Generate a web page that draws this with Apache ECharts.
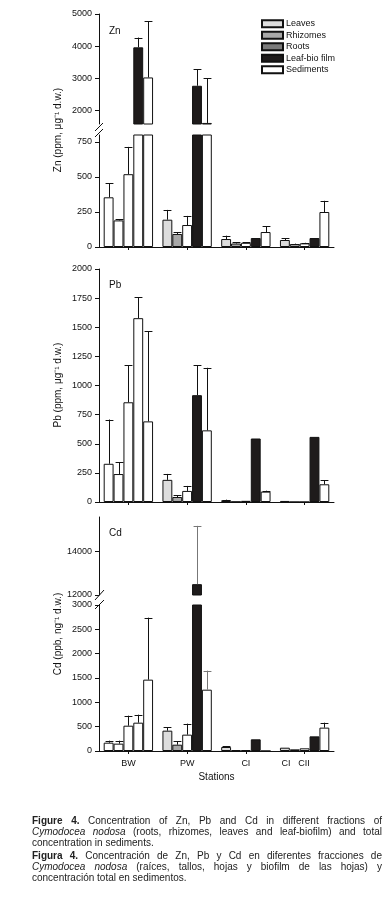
<!DOCTYPE html>
<html>
<head>
<meta charset="utf-8">
<script src="https://cdn.jsdelivr.net/npm/echarts@6/dist/echarts.min.js"></script>
<style>
  body { margin: 0; background: #fff; }
  #chart { width: 389px; height: 899px; }
  #caption { position: absolute; left: 32px; top: 815px; width: 350px; font: 10px 'Liberation Sans', Arial, sans-serif; line-height: 11px; color: #222; }
  .j { text-align: justify; text-align-last: justify; }
</style>
</head>
<body>
<div id="chart"></div>
<div id="caption">
  <div class="j"><b>Figure 4.</b> Concentration of Zn, Pb and Cd in different fractions of</div>
  <div class="j"><i>Cymodocea nodosa</i> (roots, rhizomes, leaves and leaf-biofilm) and total</div>
  <div>concentration in sediments.</div>
  <div class="j" style="margin-top:2px"><b>Figura 4.</b> Concentración de Zn, Pb y Cd en diferentes fracciones de</div>
  <div class="j"><i>Cymodocea nodosa</i> (raíces, tallos, hojas y biofilm de las hojas) y</div>
  <div>concentración total en sedimentos.</div>
</div>
<script>
const stations = ['BW', 'PW', 'CI', 'CII'];
const fractions = ['Leaves', 'Rhizomes', 'Roots', 'Leaf-bio film', 'Sediments'];

// rows follow fractions order, one value per station
const znMean = [[355, 195, 57, 50], [190, 93, 25, 21], [520, 157, 30, 26], [3960, 2760, 64, 64], [3020, 1600, 107, 250]];
const znErr = [[100, 70, 24, 14], [10, 12, 8, 3], [195, 65, 5, 4], [305, 510, 0, 0], [1750, 1400, 43, 80]];

const pbMean = [[328, 190, 15, 9], [240, 43, 2, 0], [856, 95, 10, 0], [1578, 917, 545, 559], [692, 615, 89, 152]];
const pbErr = [[380, 51, 5, 0], [100, 17, 0, 0], [319, 43, 0, 0], [181, 258, 0, 0], [774, 537, 8, 34]];

const cdMean = [[171, 418, 82, 68], [151, 130, 20, 34], [520, 336, 20, 55], [582, 12500, 240, 301], [1466, 1260, 0, 480]];
const cdErr = [[41, 75, 21, 0], [61, 69, 0, 0], [206, 226, 0, 0], [165, 2690, 0, 0], [1274, 391, 0, 102]];

const znTicksUp = [2000, 3000, 4000, 5000];
const znTicksLow = [0, 250, 500, 750];
const pbTicks = [0, 250, 500, 750, 1000, 1250, 1500, 1750, 2000];
const cdTicksUp = [12000, 14000];
const cdTicksLow = [0, 500, 1000, 1500, 2000, 2500, 3000];

const fills = ['#dddddd', '#a8a8a8', '#7c7c7c', '#1e1b1b', '#ffffff'];
const ink = '#111';
const font = "'Liberation Sans', Arial, sans-serif";
const catGap = 0.16;

const panels = [
  { mean: znMean, err: znErr, top: 14, height: 110, min: 1567, max: 5000, ticks: znTicksUp, upper: true },
  { mean: znMean, err: znErr, top: 135, height: 112, min: 0, max: 800, ticks: znTicksLow },
  { mean: pbMean, err: pbErr, top: 269, height: 233, min: 0, max: 2000, ticks: pbTicks },
  { mean: cdMean, err: cdErr, top: 517, height: 78, min: 12000, max: 15600, ticks: cdTicksUp, upper: true },
  { mean: cdMean, err: cdErr, top: 605, height: 146, min: 0, max: 3000, ticks: cdTicksLow, labels: true }
];

// the scanned figure draws roots and most BW bars unfilled
function barColor(f, k, upper) {
  if (f === 2) return '#fff';
  if (k === 0 && !upper) return '#fff';
  return fills[f];
}

function errorRenderer(f) {
  return function (params, api) {
    const err = api.value(2);
    if (!err) return;
    const cat = api.value(0), mean = api.value(1);
    const cs = params.coordSys;
    const barW = api.size([1, 0])[0] * (1 - catGap) / 5;
    const x = Math.round(api.coord([cat, 0])[0] + (f - 2) * barW) + 0.5;
    const y0 = api.coord([cat, mean])[1];
    const y1 = api.coord([cat, mean + err])[1];
    const top = cs.y, bottom = cs.y + cs.height;
    if (y1 > bottom || y0 < top) return;
    // long Cd bars at PW have grey whiskers in the scan
    const stroke = (f >= 3 && cat === 1 && mean > 1000 && cs.height < 160 && cs.y > 500) ? '#777' : ink;
    const style = { stroke: stroke, lineWidth: 1 };
    const children = [{
      type: 'line',
      shape: { x1: x, y1: Math.min(y0, bottom), x2: x, y2: Math.max(y1, top) },
      style: style
    }];
    if (y1 >= top) {
      const yc = Math.round(y1) + 0.5;
      children.push({
        type: 'line',
        shape: { x1: x - barW / 2 + 1, y1: yc, x2: x + barW / 2 - 1, y2: yc },
        style: style
      });
    }
    return { type: 'group', children: children };
  };
}

const grid = [], xAxis = [], yAxis = [], series = [];
panels.forEach((p, i) => {
  grid.push({ left: 99, right: 55, top: p.top, height: p.height });
  xAxis.push({
    type: 'category', gridIndex: i, data: stations,
    axisLine: { show: !p.upper, lineStyle: { color: ink, width: 1 } },
    axisTick: { show: !p.upper, alignWithLabel: true, length: 3, lineStyle: { color: ink } },
    axisLabel: {
      show: !!p.labels, margin: 8, color: ink, fontFamily: font, fontSize: 9,
      formatter: (v, idx) => idx === 3 ? '{s|CI   ' + v + '}' : v,
      rich: { s: { fontFamily: font, fontSize: 9, color: ink, padding: [0, 18, 0, 0] } }
    },
    name: p.labels ? 'Stations' : '', nameLocation: 'middle', nameGap: 21,
    nameTextStyle: { color: ink, fontFamily: font, fontSize: 10 }
  });
  yAxis.push({
    type: 'value', gridIndex: i, min: p.min, max: p.max,
    axisLine: { show: true, lineStyle: { color: ink, width: 1 } },
    axisTick: { show: true, length: 4, customValues: p.ticks, lineStyle: { color: ink } },
    axisLabel: {
      customValues: p.ticks, margin: 7, color: ink, fontFamily: font, fontSize: 9,
      formatter: v => String(v)
    },
    splitLine: { show: false }
  });
  fractions.forEach((name, f) => {
    series.push({
      type: 'bar', name: name, xAxisIndex: i, yAxisIndex: i,
      barGap: 0, barCategoryGap: catGap * 100 + '%',
      itemStyle: { color: fills[f], borderColor: ink, borderWidth: 1 },
      data: p.mean[f].map((v, k) => ({ value: v, itemStyle: { color: barColor(f, k, p.upper) } })),
      silent: true
    });
    series.push({
      type: 'custom', xAxisIndex: i, yAxisIndex: i,
      renderItem: errorRenderer(f),
      encode: { x: 0, y: 1 },
      data: p.mean[f].map((v, k) => [k, v, p.err[f][k]]),
      silent: true, z: 3
    });
  });
});

function vText(text, x, y) {
  return {
    type: 'text', x: x, y: y, rotation: Math.PI / 2,
    style: { text: text, fill: ink, font: '10px ' + font, textAlign: 'center', textVerticalAlign: 'middle' }
  };
}
function label(text, x, y) {
  return { type: 'text', x: x, y: y, style: { text: text, fill: ink, font: '10px ' + font, textVerticalAlign: 'middle' } };
}
function slash(x1, y1, x2, y2) {
  return { type: 'line', shape: { x1: x1, y1: y1, x2: x2, y2: y2 }, style: { stroke: ink, lineWidth: 1 } };
}

const chart = echarts.init(document.getElementById('chart'), null, { renderer: 'canvas' });
chart.setOption({
  animation: false,
  backgroundColor: '#fff',
  grid: grid, xAxis: xAxis, yAxis: yAxis, series: series,
  legend: {
    orient: 'vertical', left: 261, top: 18, padding: 0,
    itemWidth: 21, itemHeight: 7, itemGap: 0, icon: 'rect',
    selectedMode: false,
    textStyle: { color: ink, fontFamily: font, fontSize: 9, lineHeight: 11.5, padding: [0, 0, 0, -2] },
    data: fractions
  },
  graphic: [
    vText('Zn (ppm, μg⁻¹ d.w.)', 58, 130),
    vText('Pb (ppm, μg⁻¹ d.w.)', 58, 385),
    vText('Cd (ppb, ng⁻¹ d.w.)', 58, 634),
    label('Zn', 109, 31),
    label('Pb', 109, 285),
    label('Cd', 109, 533),
    slash(95, 131, 103, 123),
    slash(95, 137, 103, 129),
    slash(95, 600, 104, 590),
    slash(95, 609, 104, 600)
  ]
});
</script>
</body>
</html>
